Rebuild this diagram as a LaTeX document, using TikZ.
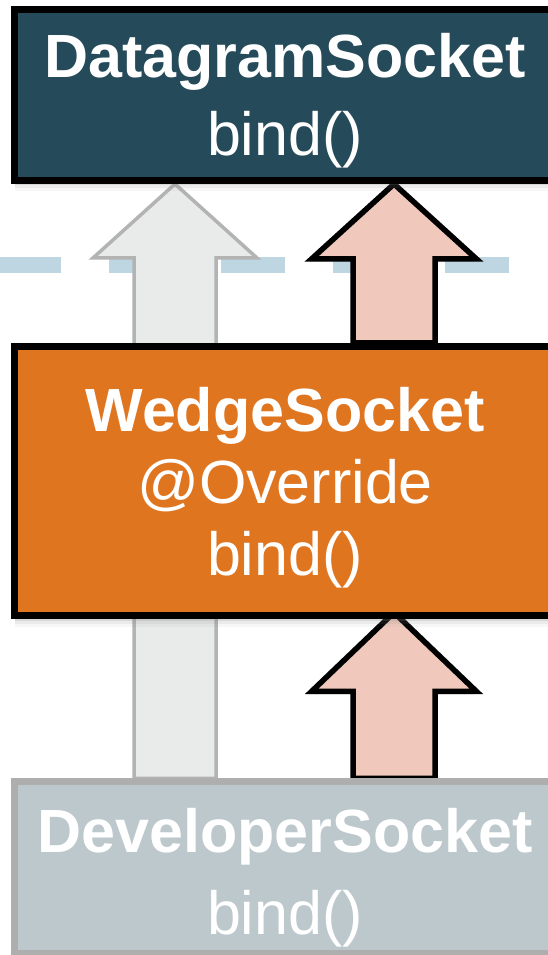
\documentclass[tikz,border=0pt]{standalone}
\usepackage{fontspec}
\setmainfont{Liberation Sans}
\usetikzlibrary{calc,shadows}

\definecolor{dgramfill}{HTML}{254A59}
\definecolor{wedgefill}{HTML}{E07520}
\definecolor{devfill}{HTML}{BDC8CD}
\definecolor{devline}{HTML}{AEAEAE}
\definecolor{grayfill}{HTML}{E9EBEA}
\definecolor{grayline}{HTML}{B3B3B3}
\definecolor{redfill}{HTML}{F0C9BC}
\definecolor{dashblue}{HTML}{BDD6E1}

\pgfdeclarelayer{background}
\pgfdeclarelayer{separator}
\pgfdeclarelayer{arrows}
\pgfsetlayers{background,separator,arrows,main}

\begin{document}
\begin{tikzpicture}[x=1pt, y=1pt,
    softshadow/.style={drop shadow={shadow xshift=0pt, shadow yshift=-5pt, opacity=.18},
                       drop shadow={shadow xshift=0pt, shadow yshift=-8pt, opacity=.10},
                       drop shadow={shadow xshift=0pt, shadow yshift=-11pt, opacity=.06}},
    classbox/.style={rectangle, draw, line width=7pt, minimum width=541pt,
                     inner sep=0pt, outer sep=3.5pt, softshadow},
    boxtext/.style={text=white, align=center, inner sep=0pt, anchor=north},
    grayarrow/.style={fill=grayfill, draw=grayline, line width=3.5pt},
    redarrow/.style={fill=redfill, draw=black, line width=5.5pt,
                     drop shadow={shadow xshift=-2pt, shadow yshift=-3pt, opacity=.2}},
    sepline/.style={draw=dashblue, line width=16pt, dash pattern=on 64pt off 48pt}]
    \useasboundingbox (0,0) rectangle (548,955);
    \clip (0,0) rectangle (548,955);
    \begin{pgfonlayer}{background}
        \fill[white] (0,0) rectangle (548,955);
    \end{pgfonlayer}

    % Class boxes
    \node[classbox, fill=dgramfill, minimum height=171pt] (dgram) at (285,860) {};
    \node[classbox, fill=wedgefill, minimum height=269.5pt] (wedge) at (285,473.75) {};
    \node[classbox, draw=devline, fill=devfill, minimum height=171.5pt] (devsock) at (285,87.25) {};

    % Labels
    \node[boxtext, font=\fontsize{61}{78}\selectfont] (dgramtext) at (285,922)
        {\textbf{DatagramSocket}\\bind()};
    \node[boxtext, font=\fontsize{61}{72}\selectfont] (wedgetext) at (285,568)
        {\textbf{WedgeSocket}\\@Override\\bind()};
    \node[boxtext, font=\fontsize{61}{82}\selectfont] (devtext) at (285,147)
        {\textbf{DeveloperSocket}\\bind()};

    % Dashed separator
    \coordinate (sepL) at (-3,690);
    \coordinate (sepR) at (509,690);
    \begin{pgfonlayer}{separator}
        \draw[sepline] (sepL) -- (sepR);
    \end{pgfonlayer}

    % Arrow tips
    \coordinate (tipG) at (175,0 |- dgram.south);
    \coordinate (tipA) at (394,0 |- dgram.south);
    \coordinate[yshift=7pt] (tipB) at (394,0 |- wedge.south);

    % Inheritance arrows
    \begin{pgfonlayer}{arrows}
        \draw[grayarrow] (tipG) -- ++(82,-74) -- ++(-41,0) -- (216,0 |- devsock.north)
            -- (134,0 |- devsock.north) -- ($(tipG)+(-41,-74)$) -- ++(-41,0) -- cycle;
        \draw[redarrow] (tipA) -- ++(82.5,-75) -- ++(-41.5,0) -- (435,0 |- wedge.north)
            -- (353,0 |- wedge.north) -- ($(tipA)+(-41,-75)$) -- ++(-41.5,0) -- cycle;
        \draw[redarrow] (tipB) -- ++(82.5,-79) -- ++(-41.5,0) -- (435,0 |- devsock.north)
            -- (353,0 |- devsock.north) -- ($(tipB)+(-41,-79)$) -- ++(-41.5,0) -- cycle;
    \end{pgfonlayer}
\end{tikzpicture}
\end{document}
